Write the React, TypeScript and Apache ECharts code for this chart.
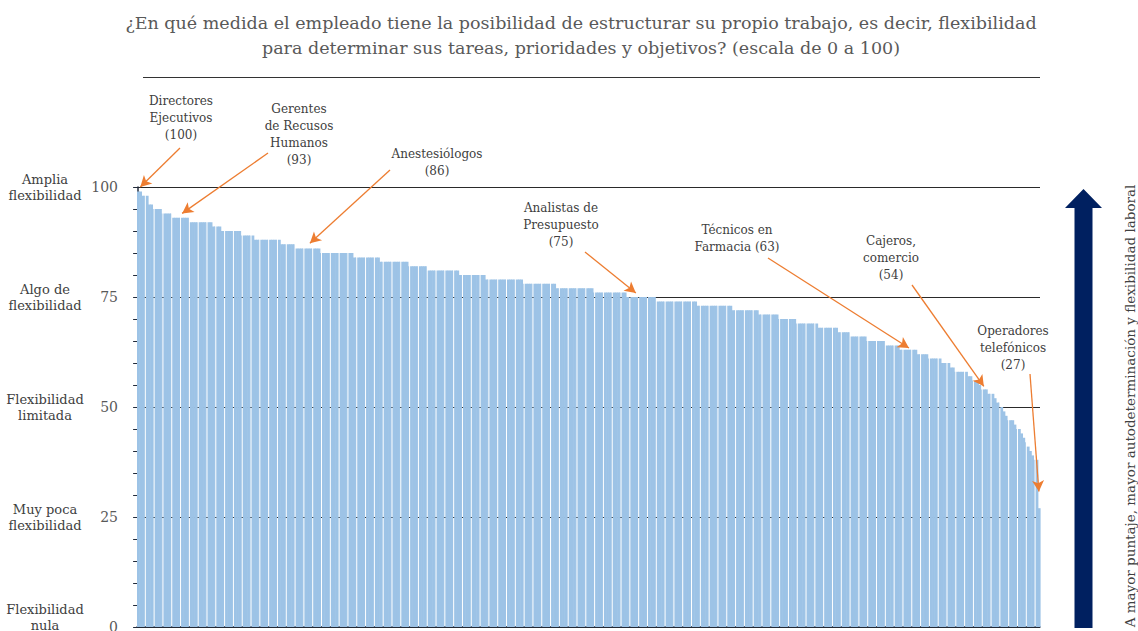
import React, { useEffect, useRef } from "react";
import * as echarts from "echarts";

// ---------- data ----------
// Occupational flexibility scores, sorted descending, as runs: value + number of occupations
const scoreValues = [
  99, 98, 96, 95, 94, 93, 92, 91, 90, 89, 88, 87, 86, 85, 84, 83, 82, 81, 80, 79,
  78, 77, 76, 75, 74, 73, 72, 71, 70, 69, 68, 67, 66, 65, 64, 63, 62, 61, 60, 59,
  58, 57, 56, 55, 54, 53, 52, 51, 50, 49, 48, 47, 46, 45, 44, 43, 42, 41, 40, 39,
  38, 27,
];
const occupationCounts = [
  2, 3, 2, 4, 5, 8, 10, 4, 9, 6, 12, 7, 11, 15, 12, 13, 9, 14, 12, 17,
  15, 17, 15, 14, 18, 16, 12, 9, 8, 10, 9, 6, 7, 9, 6, 8, 5, 6, 4, 2,
  6, 2, 3, 1, 3, 3, 1, 2, 1, 1, 1, 3, 1, 2, 1, 1, 1, 1, 1, 1,
  2, 1,
];

const yTicks = [0, 25, 50, 75, 100];
const levelNames = [
  "Flexibilidad\nnula\n{s| }",
  "Muy poca\nflexibilidad",
  "Flexibilidad\nlimitada",
  "Algo de\nflexibilidad",
  "Amplia\nflexibilidad",
];

const annTexts = [
  "Directores\nEjecutivos\n(100)",
  "Gerentes\nde Recusos\nHumanos\n(93)",
  "Anestesiólogos\n(86)",
  "Analistas de\nPresupuesto\n(75)",
  "Técnicos en\nFarmacia (63)",
  "Cajeros,\ncomercio\n(54)",
  "Operadores\ntelefónicos\n(27)",
];
const annIndex = [1, 20, 78, 226, 350, 384, 409];
const annLift = [1, 1, 1.2, 0.9, 0.4, 0.7, 3.8];
// layout of annotation labels (pixels)
const annLabelX = [181, 299, 437, 561, 737, 891, 1013];
const annLabelY = [118, 134, 162, 225, 238.5, 258, 348];
const annStartX = [180, 268, 390, 585, 768, 912, 1030];
const annStartY = [148, 153, 170, 252, 258, 285, 374];

const TITLE =
  "¿En qué medida el empleado tiene la posibilidad de estructurar su propio trabajo, es decir, flexibilidad\npara determinar sus tareas, prioridades y objetivos? (escala de 0 a 100)";
const SIDE_TEXT = "A mayor puntaje, mayor autodeterminación y flexibilidad laboral";

const BAR_COLOR = "#9dc3e6";
const ORANGE = "#ed7d31";
const NAVY = "#002060";
const FONT = "DejaVu Serif";

export default function App() {
  const ref = useRef<HTMLDivElement>(null);

  useEffect(() => {
    if (!ref.current) return;
    const chart = echarts.init(ref.current, undefined, { renderer: "svg" });

    const scores: number[] = [];
    scoreValues.forEach((v, k) => {
      for (let j = 0; j < occupationCounts[k]; j++) scores.push(v);
    });
    const N = scores.length;
    const data = scores.map((v, i) => [i, v]);

    const annotationGraphics = annTexts.map((t, k) => ({
      type: "text",
      x: annLabelX[k],
      y: annLabelY[k],
      silent: true,
      style: {
        text: t,
        align: "center",
        verticalAlign: "middle",
        fontFamily: FONT,
        fontSize: 12,
        lineHeight: 17,
        fill: "#404040",
      },
    }));

    const option: any = {
      animation: false,
      backgroundColor: "#ffffff",
      grid: {
        left: 137,
        right: 98,
        top: 187,
        bottom: 4,
        containLabel: false,
        outerBoundsMode: "none",
      },
      xAxis: {
        type: "value",
        min: -0.5,
        max: N - 0.5,
        axisLine: { show: true, onZero: false, lineStyle: { color: "#222a3a", width: 1.5 } },
        axisTick: { show: false },
        axisLabel: { show: false },
        splitLine: { show: false },
      },
      yAxis: [
        {
          type: "value",
          min: 0,
          max: 100,
          interval: 25,
          position: "left",
          axisLine: { show: true, lineStyle: { color: "#222a3a", width: 1.5 } },
          axisTick: { show: true, length: 5, lineStyle: { color: "#222a3a", width: 1 } },
          minorTick: { show: true, splitNumber: 5, length: 5, lineStyle: { color: "#222a3a", width: 1 } },
          axisLabel: {
            margin: 19,
            fontFamily: FONT,
            fontSize: 14,
            color: "#595959",
          },
          splitLine: { show: true, lineStyle: { color: "#2a2a2a", width: 1 } },
        },
        {
          type: "value",
          min: 0,
          max: 100,
          interval: 25,
          position: "left",
          axisLine: { show: false },
          axisTick: { show: false },
          splitLine: { show: false },
          axisLabel: {
            margin: 92,
            align: "center",
            fontFamily: FONT,
            fontSize: 13,
            lineHeight: 16,
            color: "#404040",
            rich: { s: { lineHeight: 20, fontSize: 13 } },
            formatter: (v: number) => {
              const k = yTicks.indexOf(v);
              return k >= 0 ? levelNames[k] : "";
            },
          },
        },
      ],
      series: [
        {
          type: "custom",
          data,
          encode: { x: 0, y: 1 },
          renderItem: (params: any, api: any) => {
            const i = api.value(0);
            const v = api.value(1);
            const top = api.coord([i, v]);
            const base = api.coord([i, 0]);
            const w = api.size([1, 0])[0];
            const left = top[0] - w / 2;
            const gap = i % 4 === 3;
            const width = gap ? w - 1 : w + 0.6;
            return {
              type: "rect",
              shape: { x: left, y: top[1], width, height: base[1] - top[1] },
              style: { fill: BAR_COLOR },
            };
          },
          markLine: {
            silent: true,
            animation: false,
            symbol: ["none", "arrow"],
            symbolSize: [9, 11],
            label: { show: false },
            emphasis: { disabled: true },
            lineStyle: { color: ORANGE, width: 1.3, type: "solid" },
            data: annIndex.map((idx, k) => [
              { x: annStartX[k], y: annStartY[k] },
              { coord: [idx, scores[idx] + annLift[k]] },
            ]),
          },
        },
      ],
      graphic: [
        {
          type: "text",
          x: 581,
          y: 35,
          silent: true,
          style: {
            text: TITLE,
            align: "center",
            verticalAlign: "middle",
            fontFamily: FONT,
            fontSize: 17.5,
            lineHeight: 25,
            fill: "#595959",
          },
        },
        {
          type: "line",
          silent: true,
          shape: { x1: 143, y1: 77.5, x2: 1040, y2: 77.5 },
          style: { stroke: "#333333", lineWidth: 1 },
        },
        ...annotationGraphics,
        {
          type: "polygon",
          silent: true,
          shape: {
            points: [
              [1074.5, 628],
              [1074.5, 208],
              [1065, 208],
              [1083.5, 189],
              [1102, 208],
              [1092.5, 208],
              [1092.5, 628],
            ],
          },
          style: { fill: NAVY },
        },
        {
          type: "text",
          x: 1130,
          y: 406,
          rotation: Math.PI / 2,
          silent: true,
          style: {
            text: SIDE_TEXT,
            align: "center",
            verticalAlign: "middle",
            fontFamily: FONT,
            fontSize: 13.5,
            fill: "#404040",
          },
        },
      ],
    };

    chart.setOption(option);
    return () => chart.dispose();
  }, []);

  return (
    <div
      ref={ref}
      style={{ position: "absolute", left: 0, top: 0, width: 1138, height: 631, background: "#fff" }}
    />
  );
}
